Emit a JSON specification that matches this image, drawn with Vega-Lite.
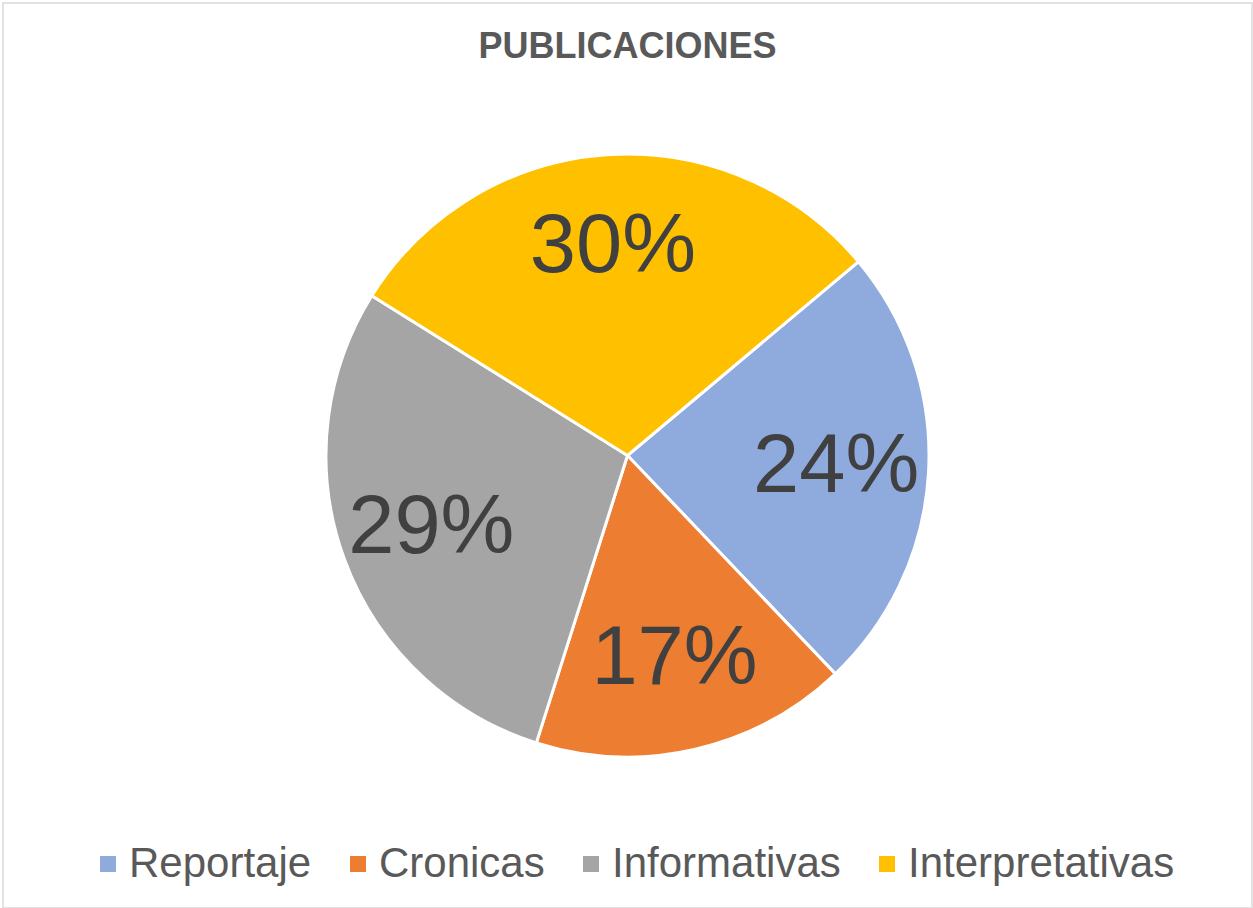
{
  "$schema": "https://vega.github.io/schema/vega-lite/v6.json",
  "autosize": {"type": "fit", "contains": "padding"},
  "width": 1253,
  "height": 908,
  "padding": {"left": 3, "top": 3, "right": 1, "bottom": 0},
  "background": "white",
  "view": {"stroke": "#d9d9d9", "strokeWidth": 1.5},
  "title": {
    "text": "PUBLICACIONES",
    "anchor": "middle",
    "frame": "group",
    "offset": -91,
    "baseline": "alphabetic",
    "font": "Liberation Sans",
    "fontSize": 36,
    "fontWeight": "bold",
    "color": "#595959"
  },
  "data": {
    "values": [
      {"categoria": "Reportaje", "orden": 1, "valor": 0.24},
      {"categoria": "Cronicas", "orden": 2, "valor": 0.17},
      {"categoria": "Informativas", "orden": 3, "valor": 0.29},
      {"categoria": "Interpretativas", "orden": 4, "valor": 0.30}
    ]
  },
  "encoding": {
    "theta": {"field": "valor", "type": "quantitative", "stack": true, "scale": {"range": [0.8727, 7.1559]}},
    "order": {"field": "orden", "type": "quantitative"},
    "color": {
      "field": "categoria",
      "type": "nominal",
      "sort": null,
      "scale": {
        "domain": ["Reportaje", "Cronicas", "Informativas", "Interpretativas"],
        "range": ["#8FAADC", "#ED7D31", "#A5A5A5", "#FFC000"]
      },
      "legend": {
        "orient": "none",
        "legendX": 84,
        "legendY": 840,
        "direction": "horizontal",
        "columns": 4,
        "title": null,
        "symbolType": "square",
        "symbolSize": 256,
        "symbolStrokeWidth": 0,
        "labelFont": "Liberation Sans",
        "labelFontSize": 42,
        "labelColor": "#595959",
        "labelOffset": 0,
        "columnPadding": 25,
        "labelLimit": 0,
        "padding": 0
      }
    }
  },
  "layer": [
    {"mark": {"type": "arc", "outerRadius": 301.5, "stroke": "white", "strokeWidth": 3}},
    {
      "mark": {"type": "text", "radius": 209, "font": "Liberation Sans", "fontSize": 83},
      "encoding": {
        "text": {"field": "valor", "type": "quantitative", "format": ".0%"},
        "color": {"value": "#404040"}
      }
    }
  ],
  "config": {"view": {"stroke": "#d9d9d9", "strokeWidth": 1.5}}
}
